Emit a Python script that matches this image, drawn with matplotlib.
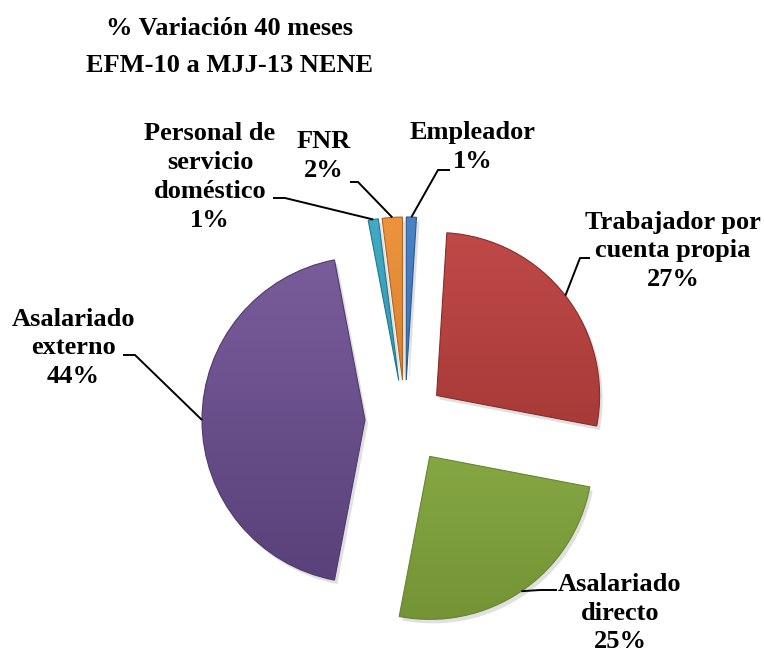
import numpy as np
import matplotlib
matplotlib.use('Agg')
from matplotlib import pyplot as plt
from matplotlib import colors as mcolors
from matplotlib.patches import Wedge

# datos del grafico
categorias = ['Empleador', 'Trabajador por\ncuenta propia', 'Asalariado\ndirecto',
              'Asalariado\nexterno', 'Personal de\nservicio\ndoméstico', 'FNR']
porcentajes = [1, 27, 25, 44, 1, 2]
colores = ['#3a78c3', '#b93a38', '#8db441', '#6d4f93', '#31a3bf', '#ec8a2d']
titulo = '% Variación 40 meses\nEFM-10 a MJJ-13 NENE'

W, H = 764, 652
fuente = 'Liberation Serif'

fig = plt.figure(figsize=(W / 100, H / 100), dpi=100)
ax = fig.add_axes([0, 0, 1, 1])

centro = (405, H - 420)
radio = 163
explode = [40, 40, 44, 40, 40, 40]

wedges, _ = ax.pie(porcentajes, colors=colores, startangle=90, counterclock=False,
                   explode=explode, center=centro, radius=radio,
                   wedgeprops=dict(linewidth=0))

# relleno con degradado y sombra suave (tipo Excel)
for w, c in zip(wedges, colores):
    cx, cy = w.center
    r = w.r
    base = np.array(mcolors.to_rgb(c))
    claro = base + (1 - base) * 0.08
    oscuro = base * 0.82
    sombra = Wedge((cx + 3, cy - 4), r, w.theta1, w.theta2, facecolor='#000000',
                   alpha=0.12, linewidth=0, zorder=1)
    ax.add_patch(sombra)
    t = np.linspace(0, 1, 256)[:, None]
    grad = oscuro[None, :] * (1 - t) + claro[None, :] * t
    img = np.repeat(grad[:, None, :], 2, axis=1)
    im = ax.imshow(img, extent=[cx - r, cx + r, cy - r, cy + r], origin='lower',
                   zorder=2, interpolation='bilinear', aspect='auto')
    im.set_clip_path(w)
    w.set_facecolor('none')
    w.set_edgecolor(tuple(oscuro * 0.9))
    w.set_linewidth(0.8)
    w.set_zorder(3)

# etiquetas con lineas guia (coordenadas de imagen, y hacia abajo)
texto_xy = [(473, 147), (673, 251), (620, 613), (73, 348), (210, 177), (324, 156)]
codo_xy = [(438, 170), (580, 258), (540, 590), (135, 355), (285, 198), (358, 182)]
fin_xy = [(450, 170), (590, 258), (557, 590), (123, 355), (273, 198), (350, 182)]

for w, cat, p, txy, cxy, fxy in zip(wedges, categorias, porcentajes, texto_xy, codo_xy, fin_xy):
    ang = np.deg2rad((w.theta1 + w.theta2) / 2)
    x0 = w.center[0] + w.r * np.cos(ang)
    y0 = w.center[1] + w.r * np.sin(ang)
    ax.plot([x0, cxy[0], fxy[0]], [y0, H - cxy[1], H - fxy[1]], color='black',
            linewidth=1.4, zorder=4, solid_capstyle='butt')
    ax.text(txy[0], H - txy[1], f'{cat}\n{p}%', ha='center', va='center',
            fontsize=19, fontweight='bold', family=fuente, linespacing=1.32, zorder=5)

ax.text(230, H - 47, titulo, ha='center', va='center', fontsize=19,
        fontweight='bold', family=fuente, linespacing=1.75)

ax.set_xlim(0, W)
ax.set_ylim(0, H)
ax.axis('off')

fig.savefig('out.png', dpi=100, facecolor='white')
